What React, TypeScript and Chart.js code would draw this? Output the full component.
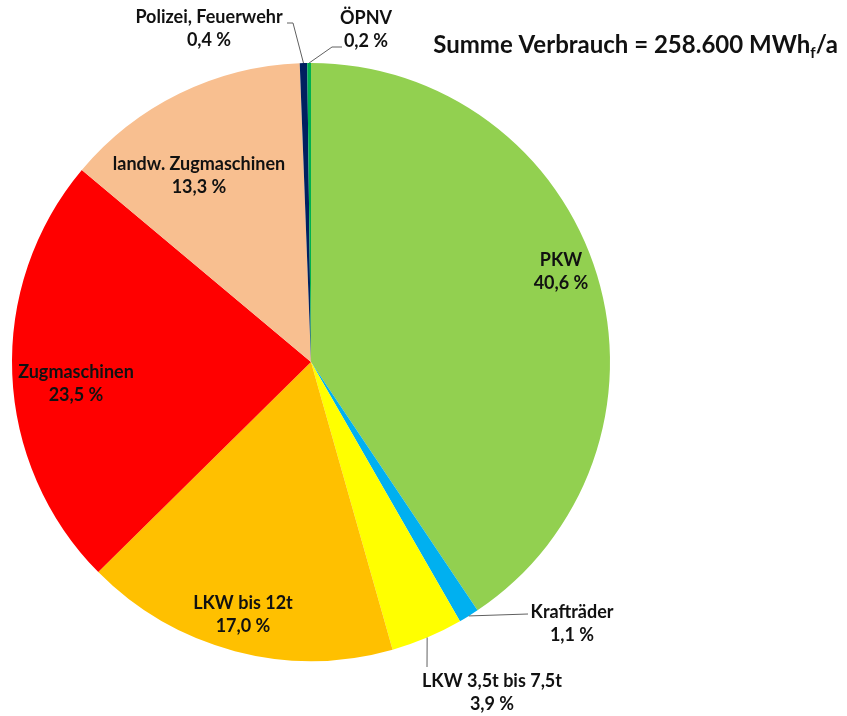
import React, { useEffect, useRef } from "react";
import { Chart, registerables } from "chart.js";

Chart.register(...registerables);

const categories = [
  "PKW",
  "Krafträder",
  "LKW 3,5t bis 7,5t",
  "LKW bis 12t",
  "Zugmaschinen",
  "landw. Zugmaschinen",
  "Polizei, Feuerwehr",
  "ÖPNV",
];
const shares = [40.6, 1.1, 3.9, 17.0, 23.5, 13.3, 0.4, 0.2];
const colors = ["#92D050", "#00B0F0", "#FFFF00", "#FFC000", "#FF0000", "#F8BF90", "#002060", "#00B050"];
const percentLabels = shares.map((v) => v.toFixed(1).replace(".", ",") + " %");

const titleMain = "Summe Verbrauch = 258.600 MWh";
const titleSub = "f";
const titleTail = "/a";

// label block centres, relative to pie centre (layout only)
const labelOffsets: [number, number][] = [
  [250, -90],
  [261, 262],
  [181, 331],
  [-68, 253],
  [-235, 22],
  [-112, -186],
  [-102, -333],
  [55, -332],
];
// leader line points after the arc-edge start (relative to pie centre)
const leaders: ([number, number][] | null)[] = [
  null,
  [[217, 252]],
  [[116, 305]],
  null,
  null,
  null,
  [[-18, -339], [-24, -339]],
  [[21, -315], [31, -315]],
];

const FONT = "Lato, 'Open Sans', sans-serif";

const labelPlugin = {
  id: "pieLabels",
  afterDraw(chart: any) {
    const ctx = chart.ctx as CanvasRenderingContext2D;
    const meta = chart.getDatasetMeta(0);
    ctx.save();
    meta.data.forEach((arc: any, i: number) => {
      const cx = arc.x;
      const cy = arc.y;
      const mid = (arc.startAngle + arc.endAngle) / 2;
      const R = arc.outerRadius;
      const lp = leaders[i];
      if (lp) {
        ctx.beginPath();
        ctx.strokeStyle = "#606060";
        ctx.lineWidth = 1;
        ctx.moveTo(cx + Math.cos(mid) * R, cy + Math.sin(mid) * R);
        lp.forEach(([dx, dy]) => ctx.lineTo(cx + dx, cy + dy));
        ctx.stroke();
      }
      const [ox, oy] = labelOffsets[i];
      const x = cx + ox;
      const y = cy + oy;
      ctx.fillStyle = "#111";
      ctx.font = `bold 18px ${FONT}`;
      ctx.textAlign = "center";
      ctx.textBaseline = "middle";
      ctx.fillText(categories[i], x, y - 11.5);
      ctx.fillText(percentLabels[i], x, y + 11.5);
    });

    // title
    ctx.textBaseline = "alphabetic";
    ctx.textAlign = "left";
    ctx.fillStyle = "#111";
    const bigFont = `bold 24px ${FONT}`;
    const smallFont = `bold 15px ${FONT}`;
    ctx.font = bigFont;
    const w1 = ctx.measureText(titleMain).width;
    const w3 = ctx.measureText(titleTail).width;
    ctx.font = smallFont;
    const w2 = ctx.measureText(titleSub).width;
    const right = 838;
    const baseline = 53;
    let x = right - (w1 + w2 + w3);
    ctx.font = bigFont;
    ctx.fillText(titleMain, x, baseline);
    x += w1;
    ctx.font = smallFont;
    ctx.fillText(titleSub, x, baseline + 5);
    x += w2;
    ctx.font = bigFont;
    ctx.fillText(titleTail, x, baseline);
    ctx.restore();
  },
};

export default function App() {
  const ref = useRef<HTMLCanvasElement | null>(null);
  useEffect(() => {
    if (!ref.current) return;
    const chart = new Chart(ref.current, {
      type: "pie",
      data: {
        labels: categories,
        datasets: [
          {
            data: shares,
            backgroundColor: colors,
            borderWidth: 0,
          },
        ],
      },
      options: {
        animation: false,
        responsive: false,
        layout: { padding: { left: 12, top: 63, right: 237, bottom: 55 } },
        plugins: {
          legend: { display: false },
          tooltip: { enabled: false },
          title: { display: false },
        },
      },
      plugins: [labelPlugin],
    });
    return () => chart.destroy();
  }, []);
  return (
    <div style={{ position: "fixed", left: 0, top: 0, width: 847, height: 716, background: "#fff" }}>
      <canvas ref={ref} width={847} height={716} style={{ display: "block" }} />
    </div>
  );
}
